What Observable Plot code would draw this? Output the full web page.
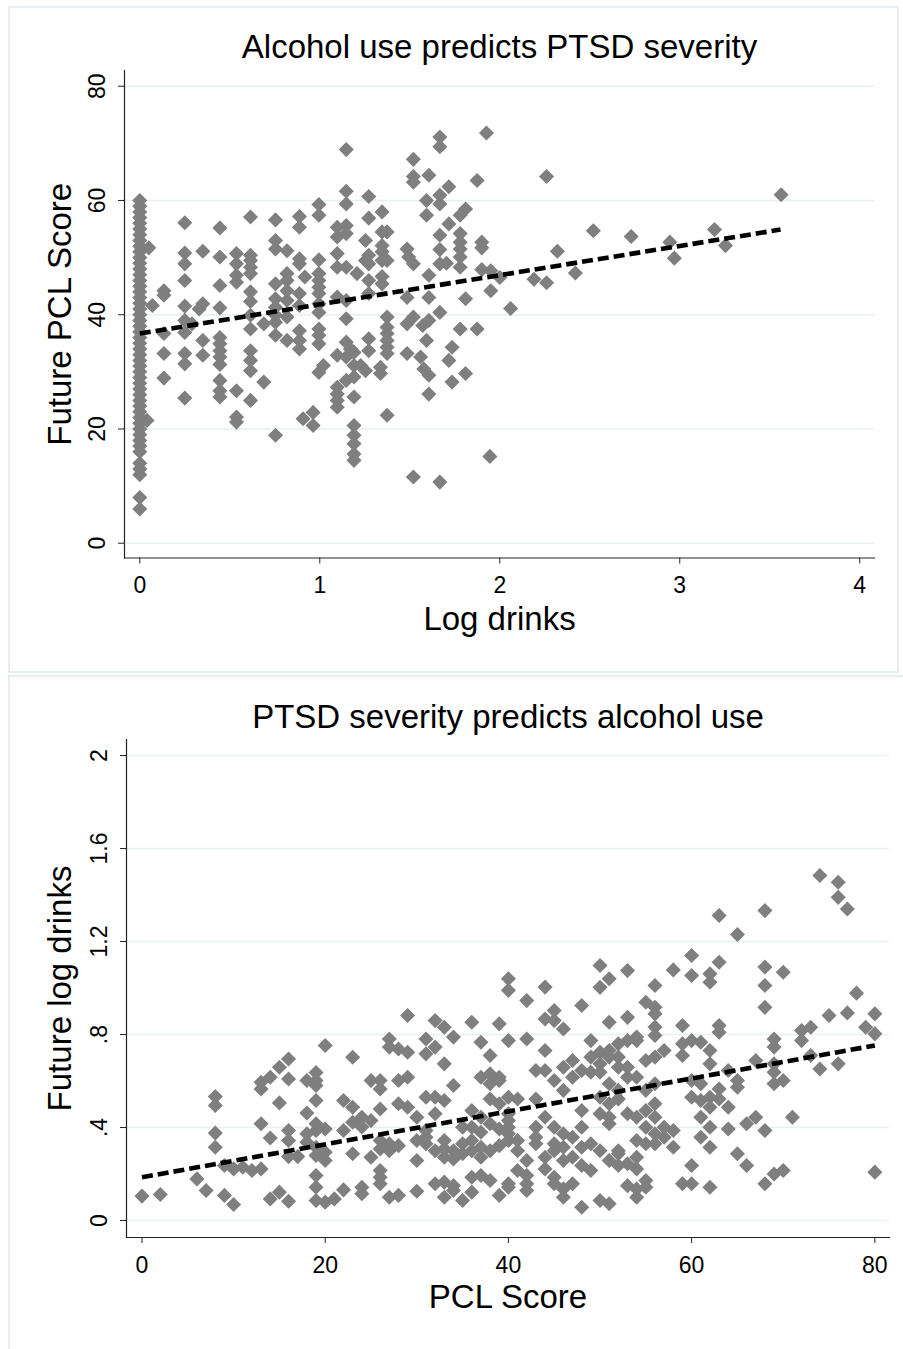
<!DOCTYPE html>
<html><head><meta charset="utf-8">
<script src="https://cdn.jsdelivr.net/npm/d3@7"></script>
<script src="https://cdn.jsdelivr.net/npm/@observablehq/plot@0.6"></script>
<style>
body{margin:0;background:#fff;font-family:"Liberation Sans",Arial,sans-serif;}
#wrap{position:relative;width:903px;height:1349px;overflow:hidden;background:#fff;}
.box{position:absolute;border:2px solid #e6eef1;box-sizing:border-box;}
#wrap svg{position:absolute;left:0;}
</style></head><body><div id="wrap"><div class="box" style="left:8px;top:6px;width:891px;height:667px"></div><div class="box" style="left:8px;top:675px;width:910px;height:700px"></div></div>
<script>
// ---------- Panel 1: Alcohol use predicts PTSD severity ----------
const title1 = "Alcohol use predicts PTSD severity";
const xLabel1 = "Log drinks";
const yLabel1 = "Future PCL Score";
const xTicks1 = [0, 1, 2, 3, 4];
const xTickLabels1 = ["0", "1", "2", "3", "4"];
const yTicks1 = [0, 20, 40, 60, 80];
const yTickLabels1 = ["0", "20", "40", "60", "80"];
const logDrinkLevels = [0, 0.04, 0.05, 0.07, 0.134, 0.25, 0.29, 0.33, 0.35, 0.445, 0.537, 0.615, 0.689, 0.754, 0.818, 0.887, 0.907, 0.917, 0.963, 0.995, 1.02, 1.097, 1.147, 1.17, 1.19, 1.207, 1.227, 1.254, 1.272, 1.337, 1.346, 1.374, 1.485, 1.494, 1.52, 1.56, 1.572, 1.578, 1.593, 1.606, 1.667, 1.704, 1.717, 1.735, 1.78, 1.81, 1.874, 1.9, 1.926, 1.945, 1.95, 2.0, 2.06, 2.19, 2.26, 2.32, 2.42, 2.52, 2.73, 2.945, 2.97, 3.193, 3.254, 3.563];
const futurePclAtLevel = [
  [6, 8, 12, 13, 14, 16, 17, 18, 19, 20, 21, 22, 23, 24, 25, 26, 27, 28, 29, 30, 31, 32, 33, 34, 35, 36, 37, 38, 39, 40, 41, 42, 43, 44, 45, 46, 47, 48, 49, 50, 51, 52, 53, 54, 55, 56, 57, 58, 59, 60],
  [21.5], [51.7], [41.6],
  [44.2, 43.4, 36.7, 33.2, 28.9],
  [56.1, 50.8, 48.9, 46, 41.5, 39, 36.9, 33.2, 31.4, 25.4],
  [38.4], [41],
  [51.1, 41.9, 35.5, 32.9],
  [55.2, 50.1, 45.1, 41.2, 36, 34.9, 33.7, 32.6, 31.3, 28.5, 26.7, 25.6],
  [50.7, 48.9, 46.9, 45.7, 26.7, 22.1, 21.2],
  [57.1, 50.4, 49.5, 48.3, 47.2, 44, 42.3, 39.9, 37.5, 33.7, 32, 30.2, 25],
  [38.4, 28.2],
  [56.6, 53, 51.5, 45.4, 42.8, 41.3, 39.9, 38.7, 36.4, 18.9],
  [51.2, 47.2, 46, 44.2, 42.5, 39.6, 35.5],
  [57.2, 55.3, 49.8, 48.9, 43.7, 41.6, 37.2, 35.5, 34],
  [21.8], [46.6], [22.9, 20.6],
  [59.3, 57.4, 49.6, 47.2, 46, 44.8, 43.7, 41.9, 40.4, 37.5, 36.4, 34.9, 29.9],
  [31.1],
  [55.3, 53.6, 50.7, 48.3, 43.1, 32.9, 27.3, 26.1, 25, 23.8],
  [68.9, 61.6, 59.4, 55.6, 54.2, 48.3, 42.5, 39.3, 35.2, 32.6, 28.5],
  [34],
  [33.4, 31.1, 29.1, 25.6, 20.6, 18.9, 17.4, 15.6, 14.5],
  [47.2], [31.1],
  [53, 49.5, 30.2],
  [60.7, 56.9, 50.4, 48.9, 46, 43.7, 35.8, 33.7],
  [30.8, 29.7],
  [58, 54.5, 52.1, 51, 49.5, 46.7, 45.4],
  [54.5, 49.5, 39.6, 37.8, 36.7, 35.5, 34.3, 33.2, 22.4],
  [51.5, 43, 38.4, 33.2],
  [50.1],
  [67.2, 64.2, 63.2, 48.9, 39.6, 11.6],
  [32.6], [38.1], [30.5],
  [60, 57.4, 35.5],
  [64.4, 46.9, 43, 39, 29.4, 26.1],
  [71.1, 69.4, 60.9, 59.4, 53.9, 51.4, 48.9, 40.4, 10.7],
  [49],
  [62.4, 55.9, 32],
  [34.3, 28.2],
  [57.4, 54.2, 52.7, 51.5, 50.1, 48.3, 37.5],
  [58.5, 42.8, 29.7],
  [63.5, 37.5],
  [52.7, 51.7, 47.9],
  [71.8], [15.2], [47.7, 44.2], [46.5], [41.1], [46.2], [64.2, 45.6], [51.1], [47.3], [54.7], [53.7], [52.7], [49.9], [54.9], [52.1], [61]
];
const fit1X = [0, 3.56];
const fit1Y = [36.7, 54.9];

// ---------- Panel 2: PTSD severity predicts alcohol use ----------
const title2 = "PTSD severity predicts alcohol use";
const xLabel2 = "PCL Score";
const yLabel2 = "Future log drinks";
const xTicks2 = [0, 20, 40, 60, 80];
const xTickLabels2 = ["0", "20", "40", "60", "80"];
const yTicks2 = [0, 0.4, 0.8, 1.2, 1.6, 2];
const yTickLabels2 = ["0", ".4", ".8", "1.2", "1.6", "2"];
const pclScores = [0, 2, 6, 7, 8, 9, 10, 11, 12, 13, 14, 15, 16, 17, 18, 19, 20, 21, 22, 23, 24, 25, 26, 27, 28, 29, 30, 31, 32, 33, 34, 35, 36, 37, 38, 39, 40, 41, 42, 43, 44, 45, 46, 47, 48, 49, 50, 51, 52, 53, 54, 55, 56, 57, 58, 59, 60, 61, 62, 63, 64, 65, 66, 67, 68, 69, 70, 71, 72, 73, 74, 75, 76, 77, 78, 79, 80];
const futureLogDrinksAtScore = [
  [0.105], [0.112], [0.179], [0.129],
  [0.533, 0.495, 0.376, 0.315],
  [0.108, 0.237],
  [0.069, 0.222],
  [0.229], [0.215],
  [0.222, 0.416, 0.595, 0.566],
  [0.355, 0.616, 0.093],
  [0.659, 0.506, 0.122],
  [0.695, 0.609, 0.083, 0.387, 0.344, 0.275],
  [0.275],
  [0.602, 0.462, 0.373, 0.337],
  [0.637, 0.602, 0.581, 0.516, 0.416, 0.387, 0.315, 0.28, 0.194, 0.143, 0.086],
  [0.079, 0.753, 0.394, 0.294, 0.258],
  [0.093],
  [0.132, 0.516, 0.387],
  [0.487, 0.423, 0.287, 0.702],
  [0.444, 0.143, 0.115, 0.402],
  [0.43, 0.272, 0.602],
  [0.602, 0.566, 0.48, 0.344, 0.308, 0.215, 0.186, 0.158],
  [0.1, 0.781, 0.746, 0.33, 0.3],
  [0.108, 0.738, 0.322, 0.602, 0.502],
  [0.724, 0.882, 0.616, 0.487],
  [0.444, 0.344, 0.258, 0.126],
  [0.781, 0.717, 0.53, 0.387, 0.358, 0.33],
  [0.86, 0.746, 0.53, 0.459, 0.3, 0.158],
  [0.831, 0.674, 0.516, 0.344, 0.308, 0.272, 0.165, 0.1],
  [0.789, 0.581, 0.3, 0.265, 0.15, 0.129],
  [0.33, 0.287, 0.401, 0.086],
  [0.853, 0.473, 0.344, 0.3, 0.401, 0.122, 0.186],
  [0.767, 0.616, 0.444, 0.315, 0.272, 0.38, 0.194],
  [0.71, 0.631, 0.588, 0.523, 0.3, 0.416, 0.172],
  [0.602, 0.846, 0.502, 0.394, 0.322, 0.108, 0.616],
  [1.04, 0.99, 0.774, 0.53, 0.459, 0.43, 0.401, 0.373, 0.344, 0.158, 0.143],
  [0.523, 0.344, 0.3, 0.215],
  [0.781, 0.946, 0.258, 0.194, 0.158, 0.129],
  [0.645, 0.523, 0.401, 0.358, 0.33],
  [1.004, 0.867, 0.731, 0.645, 0.444, 0.272, 0.222],
  [0.903, 0.86, 0.33, 0.3, 0.186, 0.158, 0.401, 0.602],
  [0.824, 0.1, 0.136, 0.373, 0.315, 0.258, 0.659, 0.56],
  [0.688, 0.616, 0.358, 0.272, 0.158],
  [0.925, 0.645, 0.473, 0.401, 0.315, 0.237, 0.057],
  [0.774, 0.703, 0.638, 0.215, 0.33],
  [1.097, 1.003, 0.724, 0.674, 0.638, 0.53, 0.459, 0.3, 0.086],
  [1.04, 0.853, 0.731, 0.703, 0.588, 0.502, 0.416, 0.444, 0.258, 0.072],
  [0.76, 0.703, 0.659, 0.56, 0.523, 0.287, 0.237, 0.3],
  [1.075, 0.874, 0.774, 0.616, 0.659, 0.459, 0.244, 0.15],
  [0.789, 0.774, 0.616, 0.444, 0.344, 0.272, 0.222, 0.1, 0.136],
  [0.939, 0.688, 0.56, 0.473, 0.401, 0.33, 0.172, 0.143],
  [1.011, 0.917, 0.889, 0.832, 0.796, 0.703, 0.588, 0.502, 0.444, 0.373, 0.33],
  [0.731, 0.401, 0.358],
  [1.078, 0.387, 0.315],
  [0.839, 0.76, 0.71, 0.158],
  [1.14, 1.054, 0.774, 0.602, 0.53, 0.237, 0.158],
  [0.767, 0.588, 0.516, 0.444, 0.358],
  [1.061, 1.025, 0.731, 0.674, 0.53, 0.487, 0.401, 0.315, 0.143],
  [1.312, 1.111, 0.839, 0.81, 0.566, 0.523],
  [0.645, 0.487, 0.394],
  [1.23, 0.602, 0.573, 0.287],
  [0.416, 0.237],
  [0.688, 0.444],
  [1.333, 1.09, 1.011, 0.917, 0.387, 0.158],
  [0.781, 0.746, 0.674, 0.638, 0.588, 0.2],
  [1.068, 0.602, 0.215],
  [0.444],
  [0.817, 0.774],
  [0.831, 0.71],
  [1.484, 0.652],
  [0.882],
  [1.455, 1.39, 0.674],
  [1.34, 0.893],
  [0.978],
  [0.831],
  [0.889, 0.803, 0.208]
];
const fit2X = [0, 80];
const fit2Y = [0.186, 0.753];

// ---------- build tables ----------
const pts1 = logDrinkLevels.flatMap((x, i) => futurePclAtLevel[i].map(y => ({x, y})));
const pts2 = pclScores.flatMap((x, i) => futureLogDrinksAtScore[i].map(y => ({x, y})));
const line1 = fit1X.map((x, i) => ({x, y: fit1Y[i]}));
const line2 = fit2X.map((x, i) => ({x, y: fit2Y[i]}));

const FONT = "'Liberation Sans', Arial, Helvetica, sans-serif";
const GRID = "#e8f0f2";
const PT = "#7f7f7f";
const lookup = (ticks, labels) => d => labels[ticks.indexOf(d)];

function panel({width, height, mt, mb, ml, mr, xDomain, yDomain, xTicks, xFmt, yTicks, yFmt, pts, line, title, xLabel, yLabel, tdy, xdy, ydx}) {
  return Plot.plot({
    width, height, marginTop: mt, marginBottom: mb, marginLeft: ml, marginRight: mr,
    style: {fontFamily: FONT, background: "transparent", color: "#000", overflow: "visible"},
    x: {domain: xDomain},
    y: {domain: yDomain},
    marks: [
      Plot.gridY(yTicks, {stroke: GRID, strokeOpacity: 1, strokeWidth: 1.6}),
      Plot.dot(pts, {x: "x", y: "y", symbol: "diamond2", r: 6.8, fill: PT, stroke: "none"}),
      Plot.line(line, {x: "x", y: "y", stroke: "#000", strokeWidth: 4.6, strokeDasharray: "11,5", strokeLinecap: "butt"}),
      Plot.frame({anchor: "left", stroke: "#222", strokeWidth: 1.2}),
      Plot.frame({anchor: "bottom", stroke: "#222", strokeWidth: 1.2}),
      Plot.axisX(xTicks, {tickSize: 6, tickPadding: 13, fontSize: 23, label: null, stroke: "#222", tickFormat: xFmt}),
      Plot.axisY(yTicks, {tickSize: 6, tickPadding: 14, tickRotate: -90, fontSize: 23, label: null, stroke: "#222", tickFormat: yFmt}),
      Plot.text([title], {frameAnchor: "top", dy: tdy, fontSize: 33, textAnchor: "middle", lineAnchor: "middle"}),
      Plot.text([xLabel], {frameAnchor: "bottom", dy: xdy, fontSize: 33, textAnchor: "middle", lineAnchor: "middle"}),
      Plot.text([yLabel], {frameAnchor: "left", dx: ydx, rotate: -90, fontSize: 33, textAnchor: "middle", lineAnchor: "middle"})
    ]
  });
}

const p1 = panel({
  width: 903, height: 672, mt: 70, mb: 114.5, ml: 124, mr: 29,
  xDomain: [-0.085, 4.082], yDomain: [-2.59, 82.75],
  xTicks: xTicks1, xFmt: lookup(xTicks1, xTickLabels1),
  yTicks: yTicks1, yFmt: lookup(yTicks1, yTickLabels1),
  pts: pts1, line: line1, title: title1, xLabel: xLabel1, yLabel: yLabel1,
  tdy: -23, xdy: 61, ydx: -64
});
p1.style.top = "0px";

const p2 = panel({
  width: 903, height: 677, mt: 67, mb: 112, ml: 126, mr: 14,
  xDomain: [-1.69, 81.6], yDomain: [-0.073, 2.069],
  xTicks: xTicks2, xFmt: lookup(xTicks2, xTickLabels2),
  yTicks: yTicks2, yFmt: lookup(yTicks2, yTickLabels2),
  pts: pts2, line: line2, title: title2, xLabel: xLabel2, yLabel: yLabel2,
  tdy: -22, xdy: 60, ydx: -66
});
p2.style.top = "672px";

const wrap = document.getElementById("wrap");
wrap.appendChild(p1);
wrap.appendChild(p2);
</script>
</body></html>
